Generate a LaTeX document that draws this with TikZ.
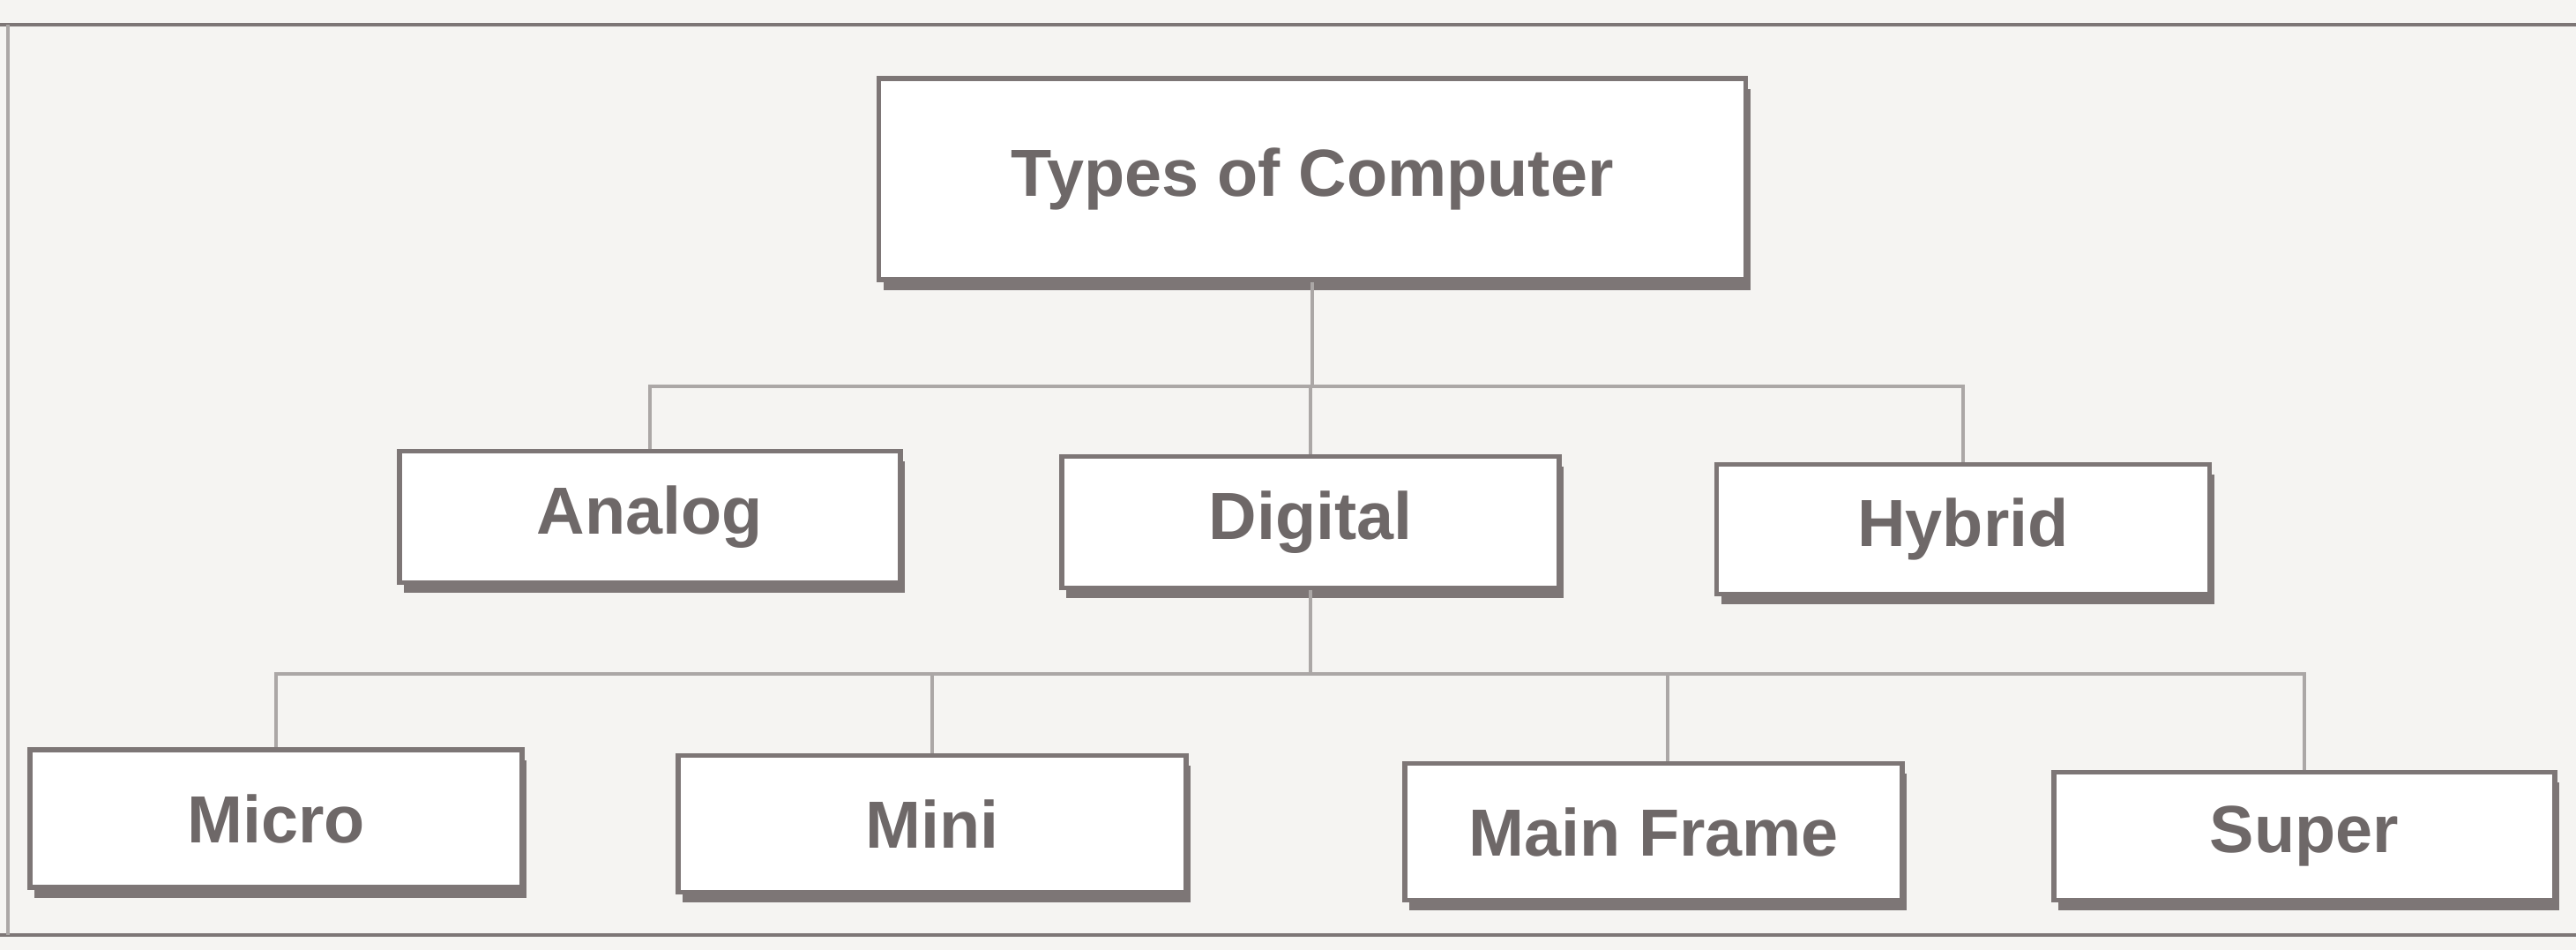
\documentclass[tikz,border=0pt]{standalone}
\usepackage{fontspec}
\setmainfont{Liberation Sans}
\usetikzlibrary{shadows}
\definecolor{inkgray}{HTML}{6E6868}
\definecolor{linegray}{HTML}{ABA7A6}
\definecolor{paper}{HTML}{F5F4F2}
\definecolor{edgegray}{HTML}{7D7676}
\tikzset{
  typebox/.style={draw=edgegray,line width=1.6pt,fill=white,text=inkgray,
    font=\bfseries\fontsize{21.5}{24}\selectfont,inner sep=0pt,
    drop shadow={shadow xshift=0.05cm,shadow yshift=-0.12cm,fill=edgegray,opacity=1}},
  link/.style={draw=linegray,line width=1.2pt}
}
\begin{document}
\begin{tikzpicture}
                \fill[paper] (0,0) rectangle (29.21,10.77);
                \useasboundingbox (0,0) rectangle (29.21,10.77);
                %% page rules
                \draw[edgegray,line width=1.4pt] (0,10.49) -- (29.21,10.49);
                \draw[edgegray,line width=1.4pt] (0,0.17) -- (29.21,0.17);
                \draw[linegray,line width=1.2pt] (0.09,0.17) -- (0.09,10.49);
                %% root
                \node[typebox,minimum width=9.83cm,minimum height=2.28cm] (root) at (14.88,8.74) {Types of Computer};
                %% Analog/Digital/Hybrid
                \node[typebox,minimum width=5.68cm,minimum height=1.49cm] (analog) at (7.37,4.91) {Analog};
                \node[typebox,minimum width=5.64cm,minimum height=1.49cm] (digital) at (14.86,4.85) {Digital};
                \node[typebox,minimum width=5.59cm,minimum height=1.47cm] (hybrid) at (22.26,4.77) {Hybrid};
                %% Micro/Mini/Main Frame/Super
                \node[typebox,minimum width=5.58cm,minimum height=1.56cm] (micro) at (3.13,1.49) {Micro};
                \node[typebox,minimum width=5.76cm,minimum height=1.55cm] (mini) at (10.57,1.43) {Mini};
                \node[typebox,minimum width=5.64cm,minimum height=1.55cm] (mainframe) at (18.75,1.34) {Main Frame};
                \node[typebox,minimum width=5.68cm,minimum height=1.45cm] (super) at (26.13,1.29) {Super};
                %% connectors
                \coordinate (top bus) at (root.south |- 0,6.39);
                \coordinate (low bus) at (digital.south |- 0,3.13);
                \coordinate (mf drop) at ([xshift=0.16cm]mainframe.north);
                \draw[link] (root.south) -- (top bus);
                \draw[link] (analog.north) -- (analog.north |- top bus) -- (hybrid.north |- top bus) -- (hybrid.north);
                \draw[link] (digital.north |- top bus) -- (digital.north);
                \draw[link] (digital.south) -- (low bus);
                \draw[link] (micro.north) -- (micro.north |- low bus) -- (super.north |- low bus) -- (super.north);
                \draw[link] (mini.north) -- (mini.north |- low bus);
                \draw[link] (mf drop) -- (mf drop |- low bus);
            \end{tikzpicture}
\end{document}
